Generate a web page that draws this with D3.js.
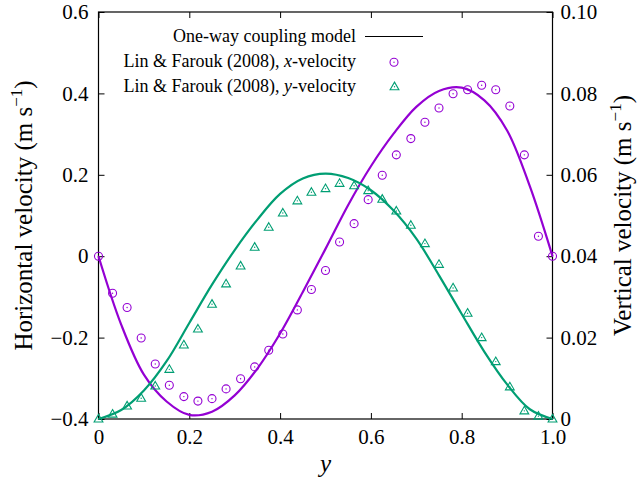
<!DOCTYPE html>
<html>
<head>
<meta charset="utf-8">
<script src="https://cdn.jsdelivr.net/npm/d3@7"></script>
<style>
  body { margin: 0; background: #fff; }
  svg { display: block; }
  svg text { font-family: 'Liberation Serif', 'Tinos', 'DejaVu Serif', serif; }
</style>
</head>
<body>
<svg></svg>
<script>
// model curves (one-way coupling)
const modelY = [0, 0.05, 0.1, 0.15, 0.2, 0.25, 0.3, 0.35, 0.4, 0.45, 0.5, 0.55, 0.6, 0.65, 0.7, 0.75, 0.8, 0.85, 0.9, 0.95, 1.0];
const modelU = [0, -0.168, -0.291, -0.357, -0.390, -0.382, -0.342, -0.276, -0.190, -0.088, 0.018, 0.126, 0.221, 0.301, 0.367, 0.406, 0.414, 0.383, 0.309, 0.172, 0];
const modelV = [0, 0.0022, 0.0070, 0.0142, 0.0236, 0.0330, 0.0415, 0.0490, 0.0553, 0.0591, 0.0603, 0.0592, 0.0562, 0.0512, 0.0443, 0.0353, 0.0258, 0.0165, 0.0085, 0.0024, 0];

// Lin & Farouk (2008) points
const measY = [0, 0.031, 0.063, 0.094, 0.125, 0.156, 0.188, 0.219, 0.25, 0.281, 0.313, 0.344, 0.375, 0.406, 0.438, 0.469, 0.5,
               0.531, 0.563, 0.594, 0.625, 0.656, 0.688, 0.719, 0.75, 0.781, 0.813, 0.844, 0.875, 0.906, 0.938, 0.969, 1.0];
const measU = [0, -0.091, -0.126, -0.201, -0.265, -0.317, -0.345, -0.356, -0.350, -0.326, -0.301, -0.272, -0.231, -0.191, -0.132, -0.082, -0.035,
               0.035, 0.080, 0.139, 0.199, 0.249, 0.289, 0.329, 0.364, 0.399, 0.409, 0.420, 0.409, 0.369, 0.249, 0.049, 0];
const measV = [0, 0.0012, 0.0032, 0.0051, 0.0081, 0.0122, 0.0182, 0.0221, 0.0282, 0.0332, 0.0376, 0.0422, 0.0471, 0.0506, 0.0536, 0.0557, 0.0566,
               0.0579, 0.0573, 0.0561, 0.0540, 0.0511, 0.0476, 0.0431, 0.0380, 0.0322, 0.0260, 0.0200, 0.0141, 0.0079, 0.0020, 0.0007, 0];

const xTicks = [0, 0.2, 0.4, 0.6, 0.8, 1.0];
const xTickLabels = ["0", "0.2", "0.4", "0.6", "0.8", "1.0"];
const leftTicks = [-0.4, -0.2, 0, 0.2, 0.4, 0.6];
const leftTickLabels = ["\u22120.4", "\u22120.2", "0", "0.2", "0.4", "0.6"];
const rightTicks = [0, 0.02, 0.04, 0.06, 0.08, 0.1];
const rightTickLabels = ["0", "0.02", "0.04", "0.06", "0.08", "0.10"];

const legendLabels = ["One-way coupling model", "Lin & Farouk (2008), ", "Lin & Farouk (2008), "];

const purple = "#9400d3";
const green = "#009e73";
const serif = "'Liberation Serif', 'Tinos', 'DejaVu Serif', serif";

var w = 637;
var h = 485;
const margin = { top: 12, left: 98.5, right: 84.5, bottom: 66 };
const innerWidth = w - margin.left - margin.right;
const innerHeight = h - margin.top - margin.bottom;

let svg = d3.select("svg").attr("width", w).attr("height", h).attr("font-family", serif);
const g = svg.append("g").attr("transform", `translate(${margin.left},${margin.top})`);

let xScale = d3.scaleLinear().domain([0, 1]).range([0, innerWidth]);
let yScale = d3.scaleLinear().domain([-0.4, 0.6]).range([innerHeight, 0]);
let y2Scale = d3.scaleLinear().domain([0, 0.1]).range([innerHeight, 0]);

function styleAxis(sel) {
  sel.attr("font-family", serif).attr("font-size", 21);
  sel.select(".domain").remove();
  sel.selectAll(".tick line").attr("stroke", "#000");
  sel.selectAll(".tick text").attr("fill", "#000");
}

// axes, ticks pointing inward
g.append("g").attr("transform", `translate(0,${innerHeight})`)
  .call(d3.axisBottom(xScale).tickValues(xTicks).tickFormat((d, i) => xTickLabels[i])
    .tickSizeInner(-6).tickSizeOuter(0).tickPadding(10))
  .call(styleAxis);
g.append("g")
  .call(d3.axisTop(xScale).tickValues(xTicks).tickFormat("")
    .tickSizeInner(-6).tickSizeOuter(0))
  .call(styleAxis);
g.append("g")
  .call(d3.axisLeft(yScale).tickValues(leftTicks).tickFormat((d, i) => leftTickLabels[i])
    .tickSizeInner(-6).tickSizeOuter(0).tickPadding(10))
  .call(styleAxis);
g.append("g").attr("transform", `translate(${innerWidth},0)`)
  .call(d3.axisRight(y2Scale).tickValues(rightTicks).tickFormat((d, i) => rightTickLabels[i])
    .tickSizeInner(-6).tickSizeOuter(0).tickPadding(8))
  .call(styleAxis);

// frame
g.append("rect")
  .attr("width", innerWidth).attr("height", innerHeight)
  .attr("fill", "none").attr("stroke", "#000").attr("stroke-width", 1.2);

// model lines
let lineU = d3.line()
  .x((d, i) => xScale(modelY[i]))
  .y(d => yScale(d))
  .curve(d3.curveCatmullRom.alpha(0.5));
let lineV = d3.line()
  .x((d, i) => xScale(modelY[i]))
  .y(d => y2Scale(d))
  .curve(d3.curveCatmullRom.alpha(0.5));

g.append("path").attr("d", lineU(modelU))
  .attr("fill", "none").attr("stroke", purple).attr("stroke-width", 2.2);
g.append("path").attr("d", lineV(modelV))
  .attr("fill", "none").attr("stroke", green).attr("stroke-width", 2.2);

function triPath(cx, cy) {
  return `M${cx},${cy - 4.6}L${cx + 4.4},${cy + 3}L${cx - 4.4},${cy + 3}Z`;
}

function drawCircle(parent, cx, cy) {
  parent.append("circle").attr("cx", cx).attr("cy", cy).attr("r", 4)
    .attr("fill", "none").attr("stroke", purple).attr("stroke-width", 1.1);
  parent.append("circle").attr("cx", cx).attr("cy", cy).attr("r", 0.7).attr("fill", purple);
}
function drawTriangle(parent, cx, cy) {
  parent.append("path").attr("d", triPath(cx, cy))
    .attr("fill", "none").attr("stroke", green).attr("stroke-width", 1.1);
  parent.append("circle").attr("cx", cx).attr("cy", cy).attr("r", 0.7).attr("fill", green);
}

// data points
let ptsU = g.append("g");
measU.forEach((d, i) => drawCircle(ptsU, xScale(measY[i]), yScale(d)));
let ptsV = g.append("g");
measV.forEach((d, i) => drawTriangle(ptsV, xScale(measY[i]), y2Scale(d)));

// legend
const lg = svg.append("g").attr("font-size", 18);
const rowY = [36.5, 61.5, 86];
lg.append("text").attr("x", 356).attr("y", rowY[0] + 5.5).attr("text-anchor", "end").text(legendLabels[0]);
let t1 = lg.append("text").attr("x", 356).attr("y", rowY[1] + 5.5).attr("text-anchor", "end").text(legendLabels[1]);
t1.append("tspan").attr("font-style", "italic").text("x");
t1.append("tspan").text("-velocity");
let t2 = lg.append("text").attr("x", 356).attr("y", rowY[2] + 5.5).attr("text-anchor", "end").text(legendLabels[2]);
t2.append("tspan").attr("font-style", "italic").text("y");
t2.append("tspan").text("-velocity");

lg.append("line").attr("x1", 365).attr("x2", 423).attr("y1", rowY[0]).attr("y2", rowY[0])
  .attr("stroke", "#000").attr("stroke-width", 1.2);
drawCircle(lg, 394, rowY[1] + 0.8);
drawTriangle(lg, 394.5, rowY[2] + 0.7);

// axis titles
function unitLabel(sel, name) {
  sel.text(name + " (m s");
  sel.append("tspan").attr("font-size", 17).attr("dy", -10).text("\u22121");
  sel.append("tspan").attr("dy", 10).text(")");
}
svg.append("text")
  .attr("transform", `translate(32,${margin.top + innerHeight / 2})rotate(-90)`)
  .attr("text-anchor", "middle").attr("font-size", 25)
  .call(unitLabel, "Horizontal velocity");
svg.append("text")
  .attr("transform", `translate(631,${margin.top + innerHeight / 2})rotate(-90)`)
  .attr("text-anchor", "middle").attr("font-size", 25)
  .call(unitLabel, "Vertical velocity");
svg.append("text")
  .attr("x", margin.left + innerWidth / 2).attr("y", 472)
  .attr("text-anchor", "middle").attr("font-size", 25).attr("font-style", "italic")
  .text("y");
</script>
</body>
</html>
